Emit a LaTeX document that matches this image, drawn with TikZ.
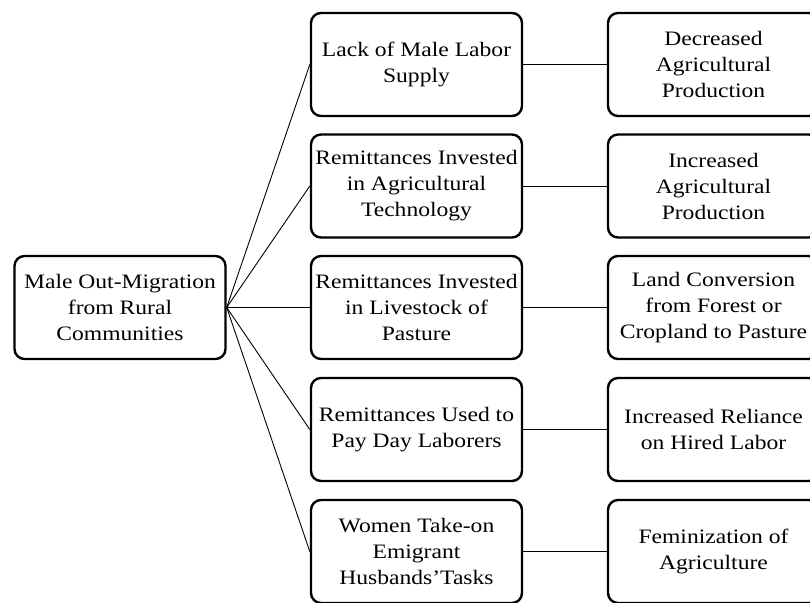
\documentclass[tikz,border=0pt]{standalone}
\usepackage{fontspec}
\setmainfont[FakeStretch=1.15]{Liberation Serif}
\begin{document}
\begin{tikzpicture}[x=1pt,y=-1pt,
  box/.style={draw, line width=2.4pt, rounded corners=10pt, minimum width=211pt, minimum height=103pt,
    align=center, inner sep=2pt, font=\fontsize{20.5}{26}\selectfont},
  link/.style={line width=0.9pt}]
\useasboundingbox (0,0) rectangle (810,602);
\clip (0,0) rectangle (810,602);
\node[box] (root) at (120,307.5) {Male Out-Migration\\from Rural\\Communities};
\node[box] (m1) at (416.5,64.5) {Lack of  Male Labor\\Supply};
\node[box] (m2) at (416.5,186) {Remittances Invested\\in Agricultural\\Technology};
\node[box] (m3) at (416.5,307.5) {Remittances Invested\\in Livestock of\\Pasture};
\node[box] (m4) at (416.5,429.5) {Remittances Used to\\Pay Day Laborers};
\node[box] (m5) at (416.5,551.5) {Women Take-on\\Emigrant\\Husbands’Tasks};
\node[box] (r1) at (713.5,64.5) {Decreased\\Agricultural\\Production};
\node[box] (r2) at (713.5,186) {Increased\\Agricultural\\Production};
\node[box] (r3) at (713.5,307.5) {Land Conversion\\from Forest or\\Cropland to Pasture};
\node[box] (r4) at (713.5,429.5) {Increased Reliance\\on Hired Labor};
\node[box] (r5) at (713.5,551.5) {Feminization of\\Agriculture};
\foreach \i in {1,...,5}{
  \draw[link] (root.east) -- (m\i.west);
  \draw[link] (m\i.east) -- (r\i.west);
}
\end{tikzpicture}
\end{document}
